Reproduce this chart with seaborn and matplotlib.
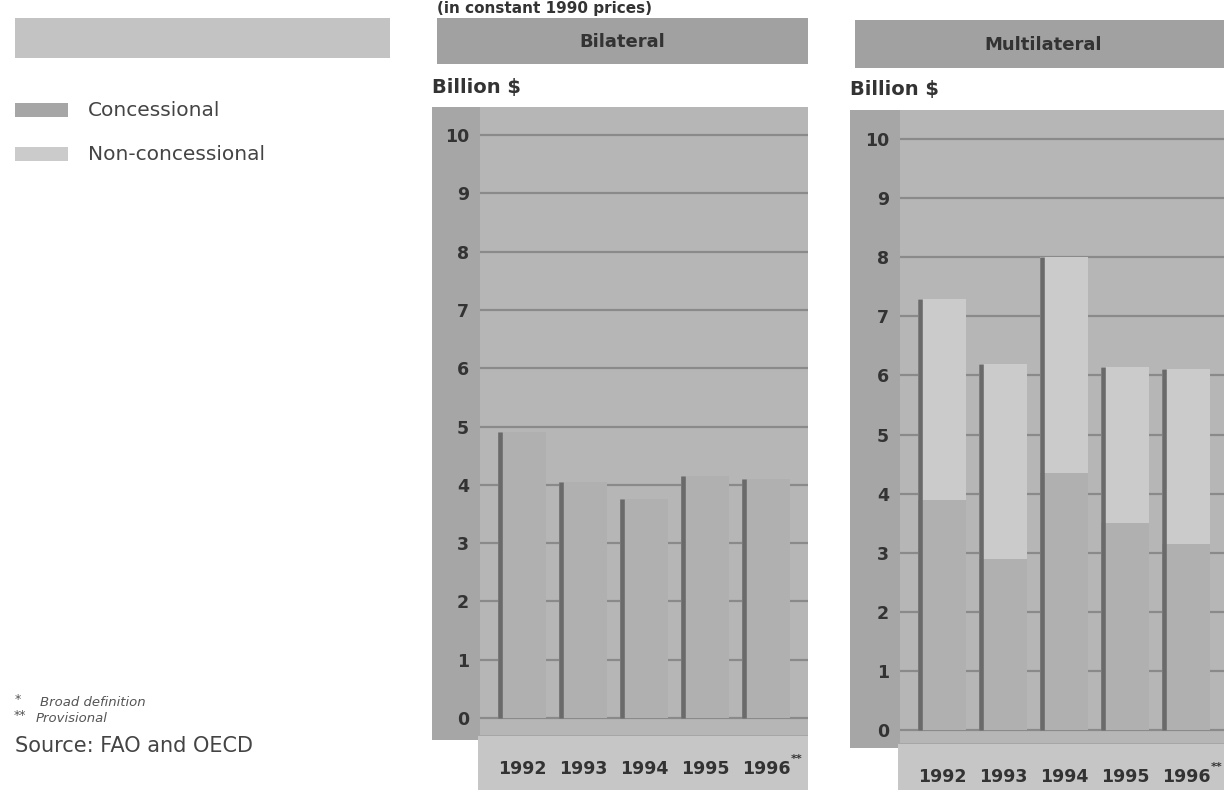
import matplotlib
matplotlib.use("Agg")
import matplotlib.pyplot as plt
from matplotlib.patches import Rectangle
import pandas as pd
import seaborn as sns

# ---- data (billion US$, constant 1990 prices) ----
years = ["1992", "1993", "1994", "1995", "1996"]
bilateral_concessional = [4.9, 4.05, 3.75, 4.15, 4.1]
bilateral_nonconcessional = [0.0, 0.0, 0.0, 0.0, 0.0]
multilateral_concessional = [3.9, 2.9, 4.35, 3.5, 3.15]
multilateral_nonconcessional = [3.4, 3.3, 3.65, 2.65, 2.95]
y_ticks = [0, 1, 2, 3, 4, 5, 6, 7, 8, 9, 10]

W, H = 1224, 790
SANS = ["DejaVu Sans"]
TXT = "#333333"
C_CONC = "#b0b0b0"
C_NONC = "#cbcbcb"
C_PLOT = "#b6b6b6"
C_STRIP = "#a6a6a6"
C_BAND = "#c6c6c6"
C_HEAD = "#a1a1a1"
C_GRID = "#8a8a8a"
C_EDGE = "#6a6a6a"

plt.rcParams["font.family"] = SANS

fig = plt.figure(figsize=(W / 100, H / 100), dpi=100)
fig.patch.set_facecolor("white")


def box(x0, y0, x1, y1):
    """Pixel box (top-left origin) -> figure fraction rect."""
    return [x0 / W, 1 - y1 / H, (x1 - x0) / W, (y1 - y0) / H]


def fig_rect(x0, y0, x1, y1, color):
    fig.add_artist(Rectangle((x0 / W, 1 - y1 / H), (x1 - x0) / W, (y1 - y0) / H,
                             transform=fig.transFigure, facecolor=color,
                             edgecolor="none", zorder=-5))


def fig_text(x, y, s, **kw):
    kw.setdefault("color", TXT)
    fig.text(x / W, 1 - y / H, s, **kw)


# ---- left column: title box, legend, notes ----
fig_rect(15, 18, 390, 58, "#c3c3c3")
fig_rect(15, 103, 68, 117, C_STRIP)
fig_text(88, 110, "Concessional", fontsize=14.5, va="center", color="#444444")
fig_rect(15, 147, 68, 161, C_NONC)
fig_text(88, 155, "Non-concessional", fontsize=14.5, va="center", color="#444444")

fig_text(15, 700, "*", fontsize=9, va="center", color="#555555")
fig_text(40, 703, "Broad definition", fontsize=9.5, style="italic", va="center",
         color="#555555")
fig_text(14, 716, "**", fontsize=9, va="center", color="#555555")
fig_text(36, 718, "Provisional", fontsize=9.5, style="italic", va="center",
         color="#555555")
fig_text(15, 746, "Source: FAO and OECD", fontsize=15, va="center", color="#444444")

# subtitle above the panels
fig_text(437, 1, "(in constant 1990 prices)", fontsize=11, fontweight="bold", va="top")


def panel(x0, top, x1, strip_bottom, zero_y, ten_y, axes_left, header_box, title,
          conc, nonc):
    hx0, hy0, hx1, hy1 = header_box
    fig_rect(hx0, hy0, hx1, hy1, C_HEAD)
    fig_text((hx0 + hx1) / 2, (hy0 + hy1) / 2 + 1, title, fontsize=13,
             fontweight="bold", ha="center", va="center")
    fig_text(x0, top - 20, "Billion $", fontsize=14, fontweight="bold", va="center")

    # dark strip behind the value axis and light band for the year labels
    fig_rect(x0, top, x1, strip_bottom, C_STRIP)
    fig_rect(axes_left - 2, strip_bottom - 4, x1, 790, C_BAND)

    unit = (zero_y - ten_y) / 10.0
    ax_bottom = strip_bottom - 5
    ax = fig.add_axes(box(axes_left, top, x1, ax_bottom))
    ax.set_facecolor(C_PLOT)

    df = pd.DataFrame({"year": years,
                       "conc": conc,
                       "total": [c + n for c, n in zip(conc, nonc)]})
    sns.barplot(data=df, x="year", y="total", order=years, color=C_NONC,
                saturation=1, width=0.78, errorbar=None, edgecolor="none",
                ax=ax, zorder=2)
    sns.barplot(data=df, x="year", y="conc", order=years, color=C_CONC,
                saturation=1, width=0.78, errorbar=None, edgecolor="none",
                ax=ax, zorder=3)

    # dark shaded left side of each bar
    totals = ax.containers[0]
    for p in totals:
        ax.vlines(p.get_x() + 0.02, 0, p.get_height(), color=C_EDGE,
                  linewidth=3.3, zorder=4)

    ax.set_ylim(-(ax_bottom - zero_y) / unit, (zero_y - top) / unit)
    ax.set_xlim(-0.69, -0.69 + (x1 - axes_left) / 61.0)
    ax.set_yticks(y_ticks)
    ax.set_yticklabels([str(t) for t in y_ticks], fontsize=12.5, fontweight="bold",
                       color=TXT)
    ax.tick_params(axis="y", length=0, pad=8)
    ax.tick_params(axis="x", length=0, pad=18)
    for lab in ax.get_xticklabels():
        lab.set_fontsize(12.5)
        lab.set_fontweight("bold")
        lab.set_color(TXT)
    ax.set_xlabel("")
    ax.set_ylabel("")
    ax.set_axisbelow(True)
    ax.grid(axis="y", color=C_GRID, linewidth=1.6, zorder=0)
    ax.grid(axis="x", visible=False)
    for s in ax.spines.values():
        s.set_visible(False)
    # provisional marker on the last year
    ax.annotate("**", xy=(4, 0), xycoords=("data", "axes fraction"),
                xytext=(18, -17), textcoords="offset points", fontsize=8,
                color=TXT, fontweight="bold", va="center")
    return ax


panel(432, 107, 808, 740, 718, 135, 480, (437, 18, 808, 64), "Bilateral",
      bilateral_concessional, bilateral_nonconcessional)
panel(850, 110, 1232, 748, 730, 139, 900, (855, 20, 1232, 68), "Multilateral",
      multilateral_concessional, multilateral_nonconcessional)

fig.savefig("out.png", dpi=100, facecolor="white")
